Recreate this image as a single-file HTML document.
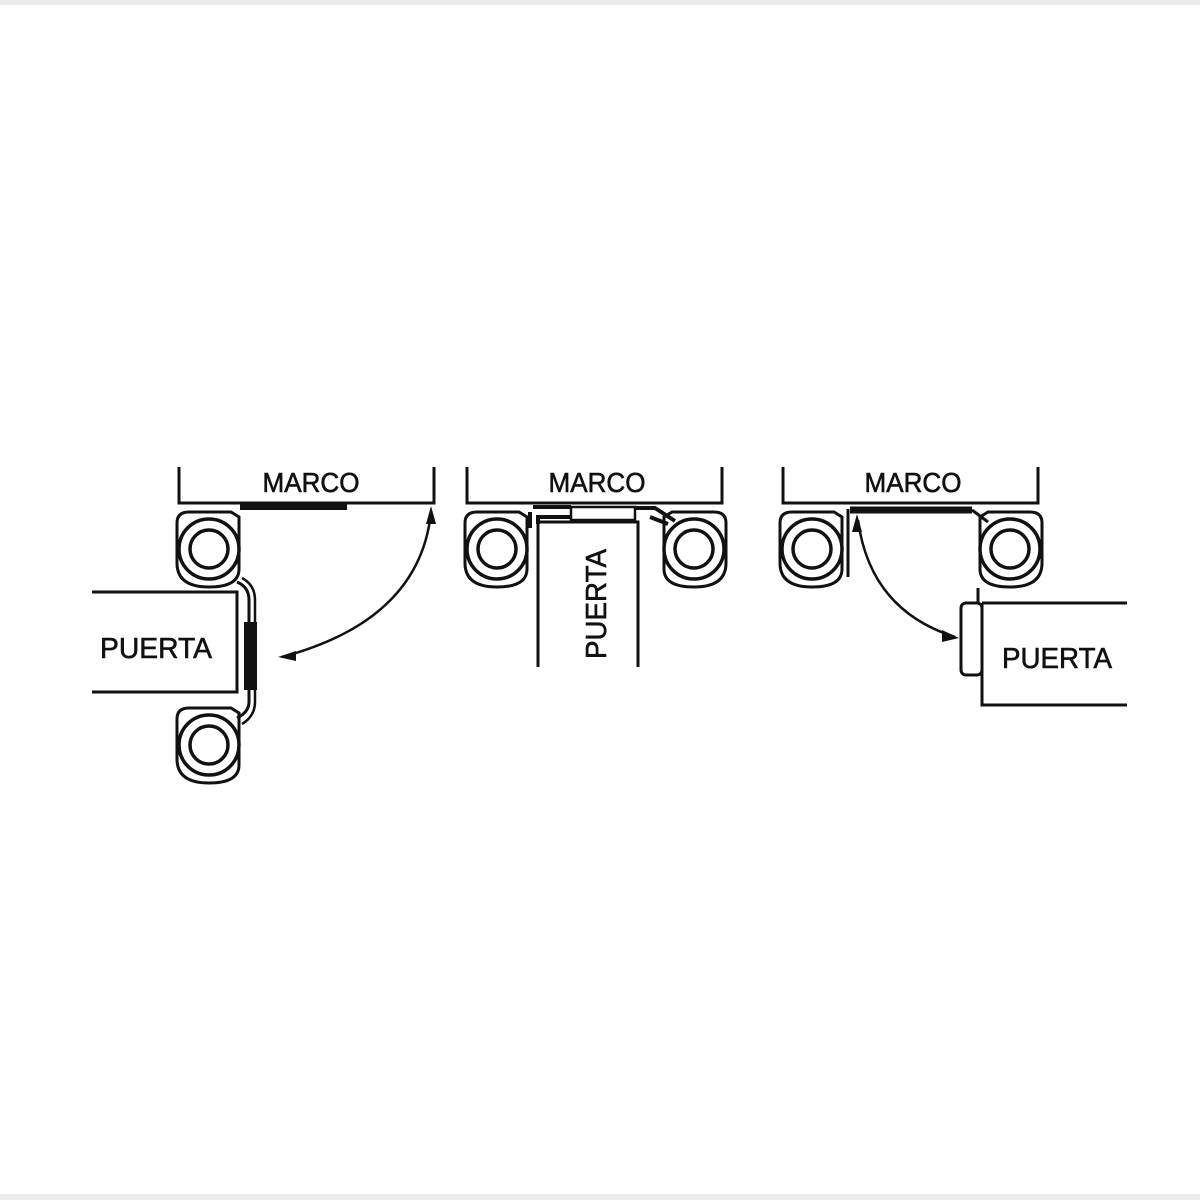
<!DOCTYPE html>
<html><head><meta charset="utf-8"><style>
html,body{margin:0;padding:0;background:#fff;}
svg{display:block;}
text{font-family:"Liberation Sans",sans-serif;fill:#111;}
</style></head><body>
<svg width="1200" height="1200" viewBox="0 0 1200 1200" xmlns="http://www.w3.org/2000/svg">
<defs>
<g id="hinge" fill="none" stroke="#111">
<path d="M-20 -37 H22 L30 -32 V20 Q30 38 0 38 Q-32 38 -32 14 V-26 Q-32 -37 -20 -37 Z" stroke-width="3"/>
<circle cx="0" cy="0" r="30" stroke-width="3.5"/>
<circle cx="0" cy="0" r="19" stroke-width="3.5"/>
</g>
</defs>
<rect x="0" y="0" width="1200" height="5" fill="#ececec"/>
<rect x="0" y="1194" width="1200" height="6" fill="#ececec"/>
<g fill="none" stroke="#111" stroke-width="3">
<!-- Panel 1 -->
<path d="M179 467 V503 H434 V467"/>
<line x1="240" y1="507" x2="347" y2="507" stroke-width="6"/>
<use href="#hinge" x="209" y="549"/>
<use href="#hinge" x="209" y="745"/>
<path d="M92 592 H237 V692 H92"/>
<path d="M237 582 Q249 587 249 600 V702 Q249 712 237 718" stroke-width="3"/>
<path d="M242 578 Q255 585 255 600 V702 Q255 716 242 724" stroke-width="2.5"/>
<rect x="244" y="622" width="13" height="68" fill="#111" stroke="none"/>
<path d="M431 512 Q420 620 282 657" stroke-width="2.5"/>
<!-- Panel 2 -->
<path d="M467 467 V503 H722 V467"/>
<use href="#hinge" x="497" y="549"/>
<use href="#hinge" x="694" y="549" transform="translate(1388 0) scale(-1 1)"/>
<path d="M538 667 V522 H638 V667"/>
<rect x="571" y="507" width="64" height="13" stroke-width="2.5"/>
<path d="M533 507 H571 M571 517 H538 V524 M530 512 V528" stroke-width="4"/>
<path d="M636 508 H655 L675 521 M650 517 L668 524" stroke-width="4"/>
<!-- Panel 3 -->
<path d="M783 467 V503 H1038 V467"/>
<use href="#hinge" x="812" y="549"/>
<line x1="848" y1="509" x2="848" y2="577" stroke-width="3"/>
<use href="#hinge" x="1010" y="549" transform="translate(2020 0) scale(-1 1)"/>
<line x1="850" y1="510" x2="972" y2="510" stroke-width="7"/>
<path d="M972 510 L988 522" stroke-width="3"/>
<path d="M982 603 H1127 M982 603 V705 H1127"/>
<rect x="961" y="603" width="21" height="72" rx="5"/>
<path d="M978 588 V603" stroke-width="3"/>
<path d="M858 520 Q870 610 955 637" stroke-width="2.5"/>
</g>
<g fill="#111">
<polygon points="431,506 426,524 436,524"/>
<polygon points="278,657 296,651 296,661"/>
<polygon points="857,514 852,532 862,532"/>
<polygon points="959,638 942,630 942,642"/>
</g>
<g stroke="#111" stroke-width="0.6">
<text x="311" y="492" font-size="28" text-anchor="middle" textLength="97" lengthAdjust="spacingAndGlyphs">MARCO</text>
<text x="597" y="492" font-size="28" text-anchor="middle" textLength="97" lengthAdjust="spacingAndGlyphs">MARCO</text>
<text x="913" y="492" font-size="28" text-anchor="middle" textLength="97" lengthAdjust="spacingAndGlyphs">MARCO</text>
<text x="156" y="658" font-size="29" text-anchor="middle" textLength="112" lengthAdjust="spacingAndGlyphs">PUERTA</text>
<text x="1057" y="668" font-size="29" text-anchor="middle" textLength="110" lengthAdjust="spacingAndGlyphs">PUERTA</text>
<text transform="translate(606,604) rotate(-90)" font-size="29" text-anchor="middle" textLength="110" lengthAdjust="spacingAndGlyphs">PUERTA</text>
</g>
</svg>
</body></html>
